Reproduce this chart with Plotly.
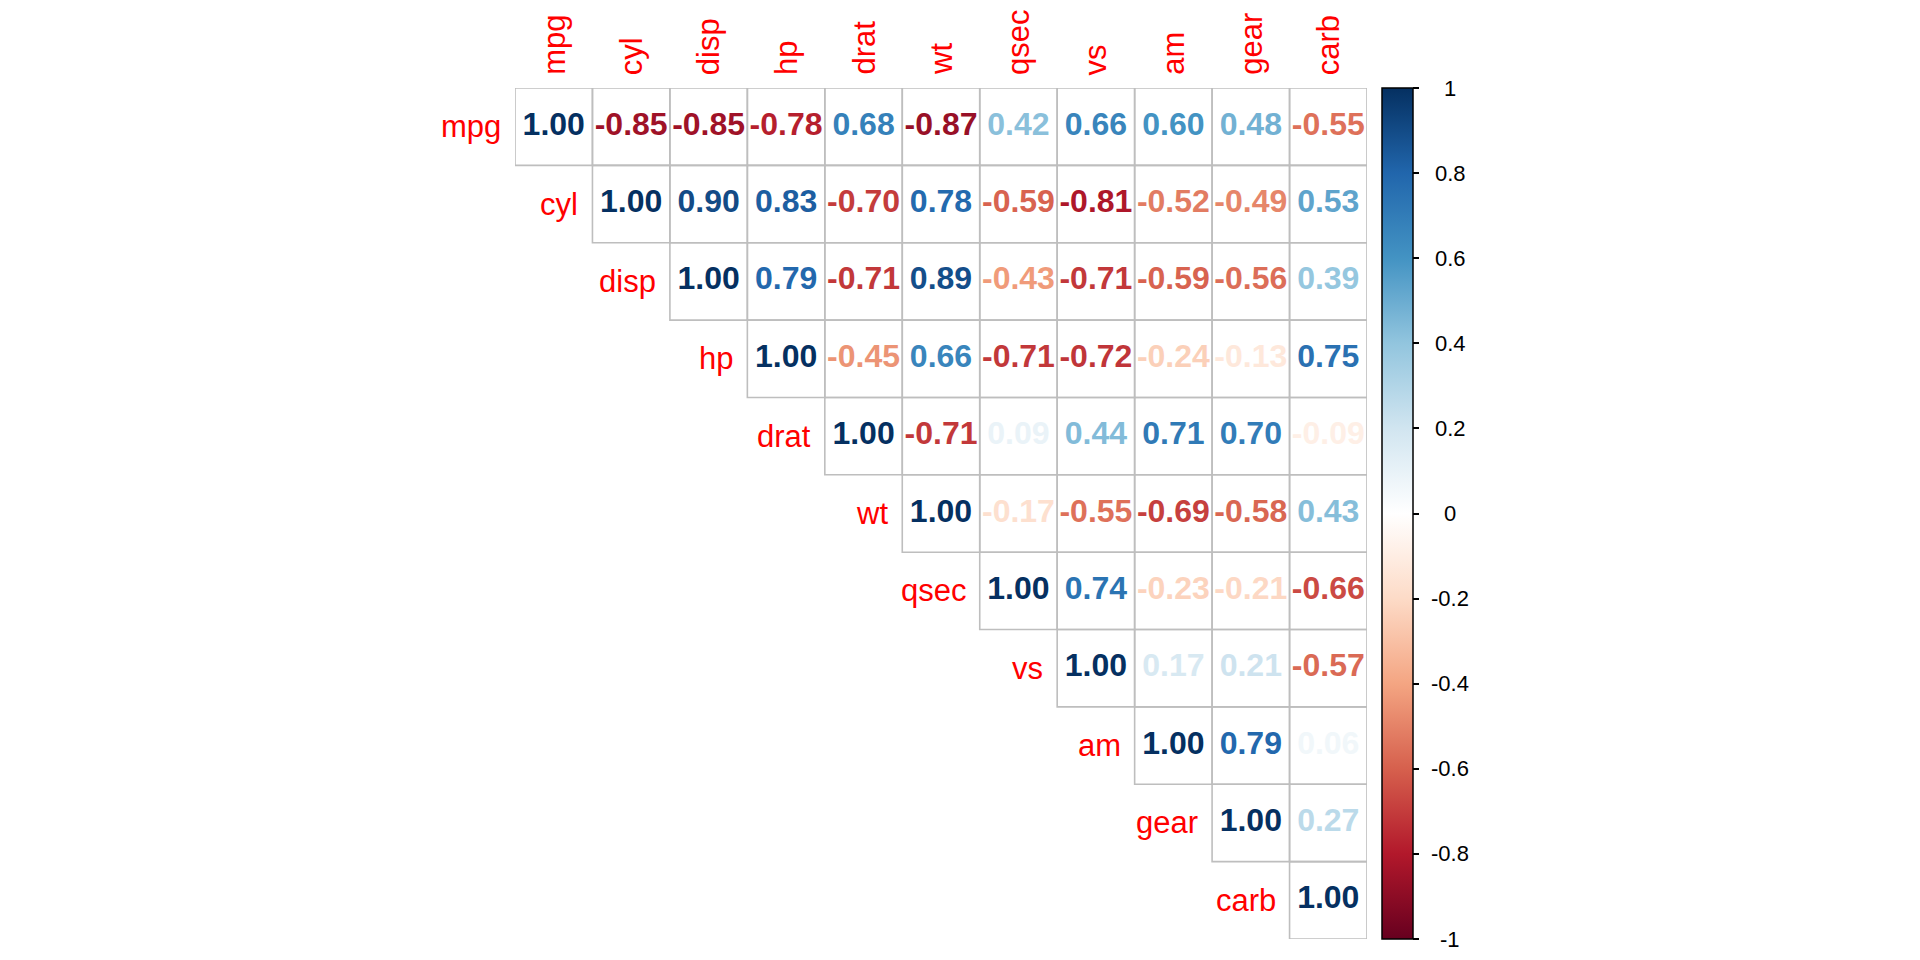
import plotly.graph_objects as go

# ---------------- data ----------------
variables = ["mpg", "cyl", "disp", "hp", "drat", "wt", "qsec", "vs", "am", "gear", "carb"]

# upper-triangle correlations, each row starts at the diagonal
r_mpg = [1.00, -0.85, -0.85, -0.78, 0.68, -0.87, 0.42, 0.66, 0.60, 0.48, -0.55]
r_cyl = [1.00, 0.90, 0.83, -0.70, 0.78, -0.59, -0.81, -0.52, -0.49, 0.53]
r_disp = [1.00, 0.79, -0.71, 0.89, -0.43, -0.71, -0.59, -0.56, 0.39]
r_hp = [1.00, -0.45, 0.66, -0.71, -0.72, -0.24, -0.13, 0.75]
r_drat = [1.00, -0.71, 0.09, 0.44, 0.71, 0.70, -0.09]
r_wt = [1.00, -0.17, -0.55, -0.69, -0.58, 0.43]
r_qsec = [1.00, 0.74, -0.23, -0.21, -0.66]
r_vs = [1.00, 0.17, 0.21, -0.57]
r_am = [1.00, 0.79, 0.06]
r_gear = [1.00, 0.27]
r_carb = [1.00]

rows = [r_mpg, r_cyl, r_disp, r_hp, r_drat, r_wt, r_qsec, r_vs, r_am, r_gear, r_carb]

cbar_ticks = [1, 0.8, 0.6, 0.4, 0.2, 0, -0.2, -0.4, -0.6, -0.8, -1]
cbar_labels = ["1", "0.8", "0.6", "0.4", "0.2", "0", "-0.2", "-0.4", "-0.6", "-0.8", "-1"]

# RdBu palette (corrplot COL2)
palette = ["#67001F", "#B2182B", "#D6604D", "#F4A582", "#FDDBC7", "#FFFFFF",
           "#D1E5F0", "#92C5DE", "#4393C3", "#2166AC", "#053061"]

# ---------------- helpers ----------------
def hex2rgb(h):
    h = h.lstrip("#")
    return tuple(int(h[k:k + 2], 16) for k in (0, 2, 4))

def color_of(v):
    p = (v + 1) / 2 * (len(palette) - 1)
    i = min(int(p), len(palette) - 2)
    f = p - i
    a, b = hex2rgb(palette[i]), hex2rgb(palette[i + 1])
    c = [round(a[k] + (b[k] - a[k]) * f) for k in range(3)]
    return "rgb(%d,%d,%d)" % tuple(c)

n = len(variables)
xs, ys, texts, cols = [], [], [], []
for i, row in enumerate(rows):
    for k, v in enumerate(row):
        j = i + k
        xs.append(j)
        ys.append(i)
        texts.append("%.2f" % v)
        cols.append(color_of(v))

FONT = "Liberation Sans, Arial, Helvetica, sans-serif"
W, H = 1920, 960
gx0, gx1 = 515 / W, 1367 / W
gy0, gy1 = (H - 939) / H, (H - 88) / H

fig = go.Figure()

# cell borders
shapes = []
for i in range(n):
    for j in range(i, n):
        shapes.append(dict(type="rect", xref="x", yref="y",
                           x0=j - 0.5, x1=j + 0.5, y0=i - 0.5, y1=i + 0.5,
                           line=dict(color="#BEBEBE", width=1.6),
                           fillcolor="rgba(0,0,0,0)", layer="below"))

# numbers
fig.add_trace(go.Scatter(
    x=xs, y=ys, text=texts, mode="text",
    textposition="middle center",
    textfont=dict(family=FONT, size=32, color=cols, weight="bold"),
    hoverinfo="skip", showlegend=False, xaxis="x", yaxis="y"))

# colorbar carrier
colorscale = [[k / (len(palette) - 1), c] for k, c in enumerate(palette)]
fig.add_trace(go.Scatter(
    x=[None], y=[None], mode="markers", xaxis="x2", yaxis="y2",
    marker=dict(color=[0], cmin=-1, cmax=1, colorscale=colorscale, showscale=True,
                colorbar=dict(x=1381.5 / W, xanchor="left", xpad=0,
                              y=gy0, yanchor="bottom", len=gy1 - gy0, lenmode="fraction",
                              ypad=0, thickness=31, thicknessmode="pixels",
                              outlinecolor="black", outlinewidth=1.5,
                              tickmode="array", tickvals=cbar_ticks,
                              ticks="outside", ticklen=6, tickwidth=1.5, tickcolor="black",
                              showticklabels=False)),
    hoverinfo="skip", showlegend=False))

annotations = []
# row labels
for i, name in enumerate(variables):
    annotations.append(dict(x=i - 0.5, y=i, xref="x", yref="y", text=name,
                            showarrow=False, xanchor="right", yanchor="middle",
                            xshift=-12, font=dict(family=FONT, size=31, color="red")))
# column labels
for j, name in enumerate(variables):
    annotations.append(dict(x=j, y=-0.5, xref="x", yref="y", text=name,
                            showarrow=False, textangle=-90, xanchor="center", yanchor="bottom",
                            yshift=11, font=dict(family=FONT, size=31, color="red")))
# colorbar labels
for v, lab in zip(cbar_ticks, cbar_labels):
    annotations.append(dict(x=1450 / W, y=v, xref="paper", yref="y2", text=lab,
                            showarrow=False, xanchor="center", yanchor="middle",
                            font=dict(family=FONT, size=22, color="black")))

fig.update_layout(
    width=W, height=H,
    margin=dict(l=0, r=0, t=0, b=0),
    paper_bgcolor="white", plot_bgcolor="white",
    xaxis=dict(domain=[gx0, gx1], range=[-0.5, n - 0.5], visible=False, fixedrange=True),
    yaxis=dict(domain=[gy0, gy1], range=[n - 0.5, -0.5], visible=False, fixedrange=True),
    xaxis2=dict(domain=[0.72, 0.74], range=[0, 1], visible=False, anchor="y2"),
    yaxis2=dict(domain=[gy0, gy1], range=[-1, 1], visible=False, anchor="x2"),
    shapes=shapes, annotations=annotations,
    showlegend=False,
)

fig.write_html("out.html",
               config={"displayModeBar": False},
               post_script="document.body.style.margin='0';document.body.style.overflow='hidden';")
